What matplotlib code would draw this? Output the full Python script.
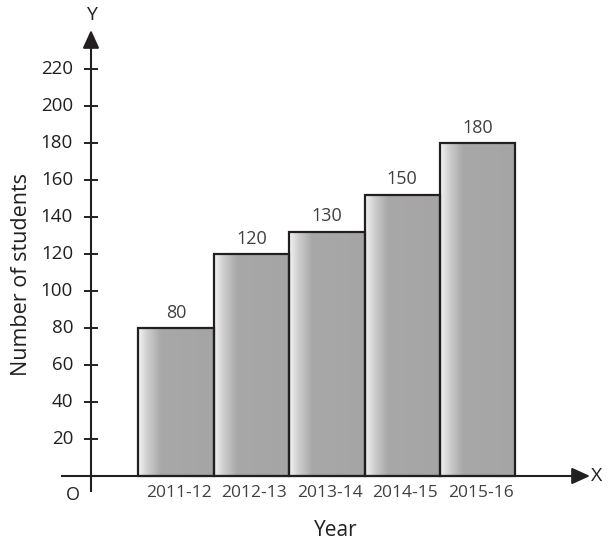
import numpy as np
import matplotlib
matplotlib.use("Agg")
import matplotlib.pyplot as plt
from matplotlib.colors import LinearSegmentedColormap

# data
years = ["2011-12", "2012-13", "2013-14", "2014-15", "2015-16"]
students = [80, 120, 132, 152, 180]          # bar heights as drawn
bar_labels = ["80", "120", "130", "150", "180"]
y_ticks = [20, 40, 60, 80, 100, 120, 140, 160, 180, 200, 220]

plt.rcParams["font.family"] = ["Open Sans", "DejaVu Sans"]

W, H, DPI = 614, 549, 100
fig = plt.figure(figsize=(W / DPI, H / DPI), dpi=DPI)
ax = fig.add_axes([0, 0, 1, 1])

# pixel layout: bar pitch 75.4 px, first bar centre at x=176, zero at y=476
px_x = 75.4
px_y = 1.85
ax.set_xlim(-176 / px_x, (W - 176) / px_x)
ax.set_ylim(-(H - 476) / px_y, 476 / px_y)

y_axis_x = (91 - 176) / px_x
x_end = (582 - 176) / px_x
x_start = (62 - 176) / px_x
y_end = (476 - 38) / px_y
y_start = -(491 - 476) / px_y

ink = "#231f20"

# gradient bars
cmap = LinearSegmentedColormap.from_list(
    "bar", [(0.0, "#f4f4f4"), (0.12, "#cfcfcf"), (0.3, "#a9a8a8"), (1.0, "#a6a5a5")])
grad = np.linspace(0, 1, 200).reshape(1, -1)
for i, v in enumerate(students):
    ax.imshow(grad, cmap=cmap, aspect="auto", extent=(i - 0.5, i + 0.5, 0, v),
              interpolation="bicubic", zorder=1)
bars = ax.bar(range(len(years)), students, width=1.0, facecolor="none",
              edgecolor=ink, linewidth=1.6, zorder=2)
for b, lab in zip(bars, bar_labels):
    ax.text(b.get_x() + b.get_width() / 2, b.get_height() + 3.5, lab,
            ha="center", va="bottom", fontsize=13, color="#404040")

# axes lines with arrows
for s in ["top", "right", "left", "bottom"]:
    ax.spines[s].set_visible(False)
ax.plot([x_start, x_end], [0, 0], color=ink, lw=1.5, zorder=3)
ax.plot([y_axis_x, y_axis_x], [y_start, y_end], color=ink, lw=1.5, zorder=3)
ax.annotate("", xy=((590 - 176) / px_x, 0), xytext=(x_end - 0.1, 0),
            arrowprops=dict(arrowstyle="-|>,head_length=1.1,head_width=0.5",
                            color=ink, lw=1.5, shrinkA=0, shrinkB=0))
ax.annotate("", xy=(y_axis_x, (476 - 30) / px_y), xytext=(y_axis_x, y_end - 5),
            arrowprops=dict(arrowstyle="-|>,head_length=1.1,head_width=0.5",
                            color=ink, lw=1.5, shrinkA=0, shrinkB=0))

# y ticks and labels
tick_half = 6 / px_x
for t in y_ticks:
    ax.plot([y_axis_x - tick_half, y_axis_x + tick_half], [t, t], color=ink, lw=1.4)
    ax.text(y_axis_x - 18 / px_x, t, str(t), ha="right", va="center",
            fontsize=13.5, color=ink)

ax.set_xticks([])
ax.set_yticks([])
for i, yr in enumerate(years):
    ax.text(i + 3 / px_x, -5, yr, ha="center", va="top", fontsize=12.5, color="#404040")

ax.text(y_axis_x - 18 / px_x, -10, "O", ha="center", va="center", fontsize=13, color=ink)
ax.text(y_axis_x, (476 - 15) / px_y, "Y", ha="center", va="center", fontsize=14, color=ink)
ax.text((597 - 176) / px_x, 0, "X", ha="center", va="center", fontsize=14, color=ink)
ax.text((336 - 176) / px_x, -(530 - 476) / px_y, "Year", ha="center", va="center",
        fontsize=15, color=ink)
ax.text((22 - 176) / px_x, (476 - 275) / px_y, "Number of students", ha="center",
        va="center", rotation=90, fontsize=15.5, color=ink)

fig.savefig("out.png", dpi=DPI)
